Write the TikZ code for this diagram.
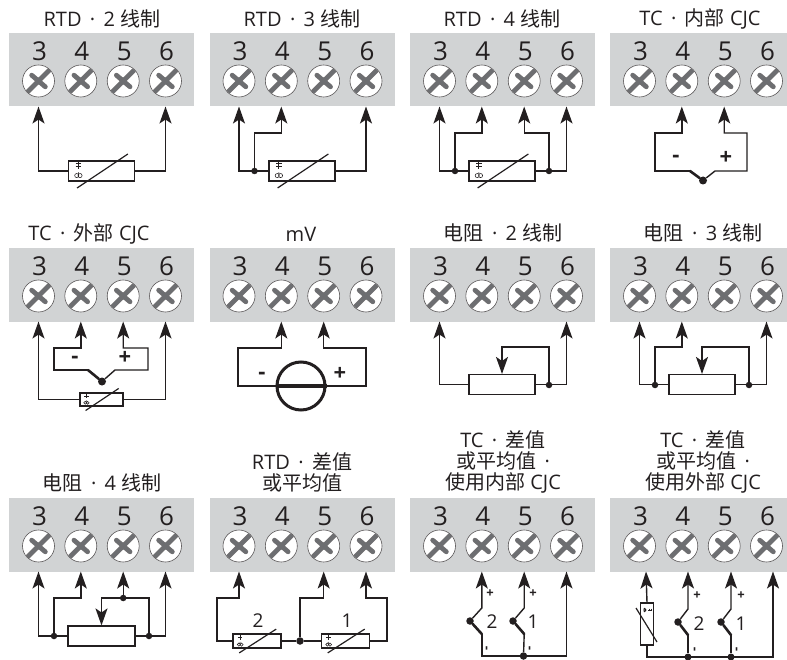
\documentclass[tikz,border=0pt]{standalone}
\usepackage{fontspec}
\setmainfont{Open Sans}
\newfontfamily\cjk{Noto Sans CJK SC}
\usetikzlibrary{arrows.meta}
\definecolor{panelgray}{HTML}{D1D3D4}
\definecolor{screwgray}{HTML}{6D6E71}
\definecolor{inkdark}{HTML}{231F20}
\newcommand\zh[1]{{\cjk #1}}
\newcommand\sepdot{\hspace{.42em}·\hspace{.42em}}
\tikzset{
 panelbox/.style={fill=panelgray,draw=none,inner sep=0pt,outer sep=0pt},
 digitlabel/.style={font=\fontsize{26}{26}\selectfont,text=inkdark,inner sep=0pt},
 titlelabel/.style={font=\fontsize{20}{21}\selectfont,text=inkdark,inner sep=0pt,align=center},
 signlabel/.style={font=\fontsize{22}{22}\selectfont\bfseries,text=inkdark,inner sep=0pt},
 smallsign/.style={font=\fontsize{13}{13}\selectfont\bfseries,text=inkdark,inner sep=0pt},
 numlabel/.style={font=\fontsize{19}{19}\selectfont,text=inkdark,inner sep=0pt},
 screwhead/.style={circle,draw=inkdark!75,line width=.6pt,fill=white,minimum size=32pt,inner sep=0pt},
 screwedge/.style={draw=inkdark!60,line width=4.8pt},
 screwfill/.style={draw=screwgray,line width=4pt},
 wire/.style={draw=inkdark,line width=1.4pt,line join=miter},
 thickwire/.style={draw=inkdark,line width=2.6pt,line cap=round},
 arrowtip/.style={-{Stealth[length=17pt,width=12pt,inset=4pt]}},
 jdot/.style={circle,fill=inkdark,minimum size=6.5pt,inner sep=0pt},
 bigdot/.style={circle,fill=inkdark,minimum size=8pt,inner sep=0pt},
 resbox/.style={rectangle,draw=inkdark,line width=1.1pt,fill=white,inner sep=0pt},
 slash/.style={draw=inkdark,line width=1.2pt},
}
% id, left, top, width
\newcommand\tpanel[4]{%
 \node[panelbox,minimum width=#4pt,minimum height=73.5pt,anchor=north west] (#1) at (#2,#3) {};
 \foreach \n/\dx in {3/29.5,4/71.8,5/114.2,6/156.5}{%
  \node[digitlabel] (#1d\n) at ({#2+\dx+1},{#3+18}) {\n};
  \node[screwhead] (#1s\n) at ({#2+\dx},{#3+48}) {};
  \begin{scope}[shift={({#2+\dx},{#3+48})}]
   \begin{scope}
    \clip (0,0) circle (15.6);
    \draw[screwedge] (-13,13) -- (13,-13);
    \draw[screwfill] (-13,13) -- (13,-13);
   \end{scope}
   \draw[screwedge,line cap=round] (-6.8,-5.8) -- (6.8,5.8);
   \draw[screwfill,line cap=round] (-6.8,-5.8) -- (6.8,5.8);
   \fill[screwgray] (0,0) circle (3.6);
  \end{scope}
  \coordinate (#1-\n) at ({#2+\dx},{#3+73.5});
 }%
}
% small temperature mark, drawn about (0,0)
\newcommand\tempmark[3]{%
 \begin{scope}[shift={(#1,#2)},scale=#3,line width=.55pt,inkdark]
  \draw[line width=.9pt] (0,-8.5) -- (0,-1.5);
  \draw[line width=.9pt] (-2.4,-6.6) -- (2.4,-6.6) (-2.4,-3.6) -- (2.4,-3.6);
  \draw (-1.4,3.8) circle (1.7) (1.4,3.8) circle (1.7) (0,1) -- (0,2.2);
 \end{scope}%
}
% name, cx, cy, w, h : resistor with slash and mark
\newcommand\rtdbox[5]{%
 \node[resbox,minimum width=#4pt,minimum height=#5pt] (#1) at (#2,#3) {};
 \draw[slash] ({#2-.37*#4},{#3+.85*#5}) -- ({#2+.40*#4},{#3-.85*#5});
 \tempmark{#2-.35*#4}{#3}{#4/66*.95+.25}%
}
\begin{document}
\begin{tikzpicture}[x=1pt,y=-1pt]
\useasboundingbox (0,0) rectangle (787,660);
\fill[white] (0,0) rectangle (787,660);

% ---- panels
\tpanel{a}{9}{33}{185}
\tpanel{b}{209.5}{33}{185}
\tpanel{c}{410}{33}{185}
\tpanel{d}{610}{33}{177}
\tpanel{e}{9}{248}{185}
\tpanel{f}{209.5}{248}{185}
\tpanel{g}{410}{248}{185}
\tpanel{h}{610}{248}{177}
\tpanel{i}{9}{498}{185}
\tpanel{j}{209.5}{498}{185}
\tpanel{k}{410}{498}{185}
\tpanel{l}{610}{498}{177}

% ---- titles
\node[titlelabel] (ta) at (102,19) {RTD\sepdot 2 \zh{线制}};
\node[titlelabel] (tb) at (302,19) {RTD\sepdot 3 \zh{线制}};
\node[titlelabel] (tc) at (502,19) {RTD\sepdot 4 \zh{线制}};
\node[titlelabel] (td) at (700,19) {TC\sepdot\zh{内部} CJC};
\node[titlelabel] (te) at (89,234) {TC\sepdot\zh{外部} CJC};
\node[titlelabel] (tf) at (301,234) {mV};
\node[titlelabel] (tg) at (503,233) {\zh{电阻}\sepdot 2 \zh{线制}};
\node[titlelabel] (th) at (703,233) {\zh{电阻}\sepdot 3 \zh{线制}};
\node[titlelabel] (ti) at (102,483) {\zh{电阻}\sepdot 4 \zh{线制}};
\node[titlelabel] (tj) at (302,472.5) {RTD\sepdot\zh{差值}\\\zh{或平均值}};
\node[titlelabel] (tk) at (503,462) {TC\sepdot\zh{差值}\\\zh{或平均值}\sepdot\\\zh{使用内部} CJC};
\node[titlelabel] (tl) at (703,462) {TC\sepdot\zh{差值}\\\zh{或平均值}\sepdot\\\zh{使用外部} CJC};

% ---- a: RTD 2 wire
\rtdbox{ra}{101.5}{171}{66}{20}
\draw[wire,arrowtip] (ra.west) -| (a-3);
\draw[wire,arrowtip] (ra.east) -| (a-6);

% ---- b: RTD 3 wire
\rtdbox{rb}{302}{171}{66}{20}
\node[jdot] (bj) at (254.5,171) {};
\coordinate (bb) at (254.5,133);
\draw[wire,arrowtip] (rb.west) -| (b-3);
\draw[wire,arrowtip] (bj) -- (bb) -| (b-4);
\draw[wire,arrowtip] (rb.east) -| (b-6);

% ---- c: RTD 4 wire
\rtdbox{rc}{502}{171}{66}{20}
\node[jdot] (cj) at (455,171) {};
\node[jdot] (ck) at (549,171) {};
\coordinate (cb) at (455,133);
\coordinate (cd) at (549,133);
\draw[wire,arrowtip] (rc.west) -| (c-3);
\draw[wire,arrowtip] (cj) -- (cb) -| (c-4);
\draw[wire,arrowtip] (ck) -- (cd) -| (c-5);
\draw[wire,arrowtip] (rc.east) -| (c-6);

% ---- d: TC internal
\node[bigdot] (dj) at (703,180.5) {};
\coordinate (dl) at (655,133);
\coordinate (dm) at (655,171);
\coordinate (dn) at (690,171);
\coordinate (dr) at (747,133);
\coordinate (ds) at (747,171);
\coordinate (dt) at (715,171);
\draw[wire,arrowtip] (dn) -- (dm) -- (dl) -| (d-4);
\draw[wire,arrowtip] (dj) -- (dt) -- (ds) -- (dr) -| (d-5);
\draw[thickwire] (dn) -- (dj);
\node[signlabel] (dminus) at (676,159) {-};
\node[signlabel] (dplus) at (726,158) {+};

% ---- e: TC external
\node[bigdot] (ej) at (102,381.5) {};
\coordinate (el) at (54,348);
\coordinate (em) at (54,370);
\coordinate (en) at (88,370);
\coordinate (er) at (148,348);
\coordinate (es) at (148,370);
\coordinate (et) at (115,370);
\draw[wire,arrowtip] (en) -- (em) -- (el) -| (e-4);
\draw[wire,arrowtip] (ej) -- (et) -- (es) -- (er) -| (e-5);
\draw[thickwire] (en) -- (ej);
\node[signlabel] (eminus) at (75,360) {-};
\node[signlabel] (eplus) at (125,358) {+};
\rtdbox{re}{101.5}{399.5}{43}{13}
\draw[wire,arrowtip] (re.west) -| (e-3);
\draw[wire,arrowtip] (re.east) -| (e-6);

% ---- f: mV
\node[circle,draw=inkdark,line width=3pt,fill=white,minimum size=48pt,inner sep=0pt] (fc) at (301,386) {};
\draw[draw=inkdark,line width=4.2pt] (fc.west) -- (fc.east);
\coordinate (fl) at (238,348);
\coordinate (fr) at (366,348);
\draw[wire,arrowtip] (fc.west) -| (fl) -| (f-4);
\draw[wire,arrowtip] (fc.east) -| (fr) -| (f-5);
\node[signlabel] (fminus) at (262,376) {-};
\node[signlabel] (fplus) at (340,374) {+};

% ---- g: resistance 2 wire
\node[resbox,minimum width=66pt,minimum height=20pt] (rg) at (502,384.5) {};
\node[jdot] (gj) at (549,385) {};
\coordinate (gt) at (549,347);
\draw[wire,arrowtip] (rg.west) -| (g-3);
\draw[wire,arrowtip] (rg.east) -| (g-6);
\draw[wire,arrowtip] (gj) -- (gt) -| (rg.north);

% ---- h: resistance 3 wire
\node[resbox,minimum width=66pt,minimum height=20pt] (rh) at (702,384.5) {};
\node[jdot] (hj) at (655,385) {};
\node[jdot] (hk) at (749,385) {};
\coordinate (ht) at (655,347);
\coordinate (hu) at (749,347);
\draw[wire,arrowtip] (rh.west) -| (h-3);
\draw[wire,arrowtip] (rh.east) -| (h-6);
\draw[wire,arrowtip] (hj) -- (ht) -| (h-4);
\draw[wire,arrowtip] (hk) -- (hu) -| (rh.north);

% ---- i: resistance 4 wire
\node[resbox,minimum width=67pt,minimum height=20pt] (ri) at (101.5,636) {};
\node[jdot] (ij) at (54,636) {};
\node[jdot] (ik) at (149,636) {};
\node[jdot] (im) at (123.2,598) {};
\coordinate (it) at (54,598);
\coordinate (iu) at (149,598);
\draw[wire,arrowtip] (ri.west) -| (i-3);
\draw[wire,arrowtip] (ri.east) -| (i-6);
\draw[wire,arrowtip] (ij) -- (it) -| (i-4);
\draw[wire,arrowtip] (im) -- (i-5);
\draw[wire,arrowtip] (ik) -- (iu) -| (ri.north);

% ---- j: RTD differential
\rtdbox{rj}{257}{641}{48}{14}
\rtdbox{rk}{345.5}{641}{48}{14}
\node[jdot,minimum size=7.5pt] (jj) at (300,641) {};
\coordinate (ja) at (217,598);
\coordinate (jb) at (300,598);
\coordinate (jc) at (387,598);
\draw[wire,arrowtip] (rj.west) -| (ja) -| (j-3);
\draw[wire] (rj.east) -- (jj) -- (rk.west);
\draw[wire,arrowtip] (jj) -- (jb) -| (j-5);
\draw[wire,arrowtip] (rk.east) -| (jc) -| (j-6);
\node[numlabel] (jtwo) at (258,621) {2};
\node[numlabel] (jone) at (347,621) {1};

% ---- k: TC differential, internal CJC
\node[jdot,minimum size=7.5pt] (kj) at (470,621) {};
\node[jdot,minimum size=7.5pt] (kk) at (513,621) {};
\node[jdot,minimum size=7.5pt] (km) at (523.5,656) {};
\coordinate (kp) at (481.8,608);
\coordinate (kq) at (481.8,634);
\coordinate (kr) at (524.2,608);
\coordinate (ks) at (524.2,634);
\coordinate (kb) at (481.8,656);
\draw[wire,arrowtip] (kj) -- (kp) -- (k-4);
\draw[wire,arrowtip] (kk) -- (kr) -- (k-5);
\draw[thickwire] (kj) -- (kq);
\draw[thickwire] (kk) -- (ks);
\draw[wire,arrowtip] (kq) -- (kb) -| (k-6);
\draw[wire] (ks) -- (km);
\node[smallsign] (kplusa) at (490,594) {+};
\node[smallsign] (kplusb) at (533,594) {+};
\node[numlabel] (ktwo) at (492,622) {2};
\node[numlabel] (kone) at (533,622) {1};
\node[smallsign,rotate=90] (kmina) at (488,648) {-};
\node[smallsign,rotate=90] (kminb) at (531,648) {-};

% ---- l: TC differential, external CJC
\coordinate (l3) at (646,571.5);
\coordinate (l4) at (688,571.5);
\coordinate (l5) at (731,571.5);
\coordinate (l6) at (773,571.5);
\node[resbox,minimum width=12.5pt,minimum height=42pt] (rl) at (647,624) {};
\draw[slash] (636,608) -- (657,642);
\begin{scope}[rotate around={-90:(647,610)}]
\tempmark{647}{610}{.6}
\end{scope}
\node[jdot,minimum size=7.5pt] (lj) at (678,622) {};
\node[jdot,minimum size=7.5pt] (lk) at (721,622) {};
\node[jdot,minimum size=7pt] (lm) at (688,657) {};
\node[jdot,minimum size=7pt] (ln) at (731,657) {};
\coordinate (lp) at (688,609);
\coordinate (lq) at (688,635);
\coordinate (lr) at (731,609);
\coordinate (ls) at (731,635);
\coordinate (lb) at (647,657);
\draw[wire,arrowtip] (rl.north) -- (l3);
\draw[wire,arrowtip] (rl.south) -- (lb) -| (l6);
\draw[wire,arrowtip] (lj) -- (lp) -- (l4);
\draw[wire,arrowtip] (lk) -- (lr) -- (l5);
\draw[thickwire] (lj) -- (lq);
\draw[thickwire] (lk) -- (ls);
\draw[wire] (lq) -- (lm);
\draw[wire] (ls) -- (ln);
\node[smallsign] (lplusa) at (697,596) {+};
\node[smallsign] (lplusb) at (741,596) {+};
\node[numlabel] (ltwo) at (699,624) {2};
\node[numlabel] (lone) at (741,624) {1};
\node[smallsign,rotate=90] (lmina) at (696,649) {-};
\node[smallsign,rotate=90] (lminb) at (738,649) {-};
\end{tikzpicture}
\end{document}
